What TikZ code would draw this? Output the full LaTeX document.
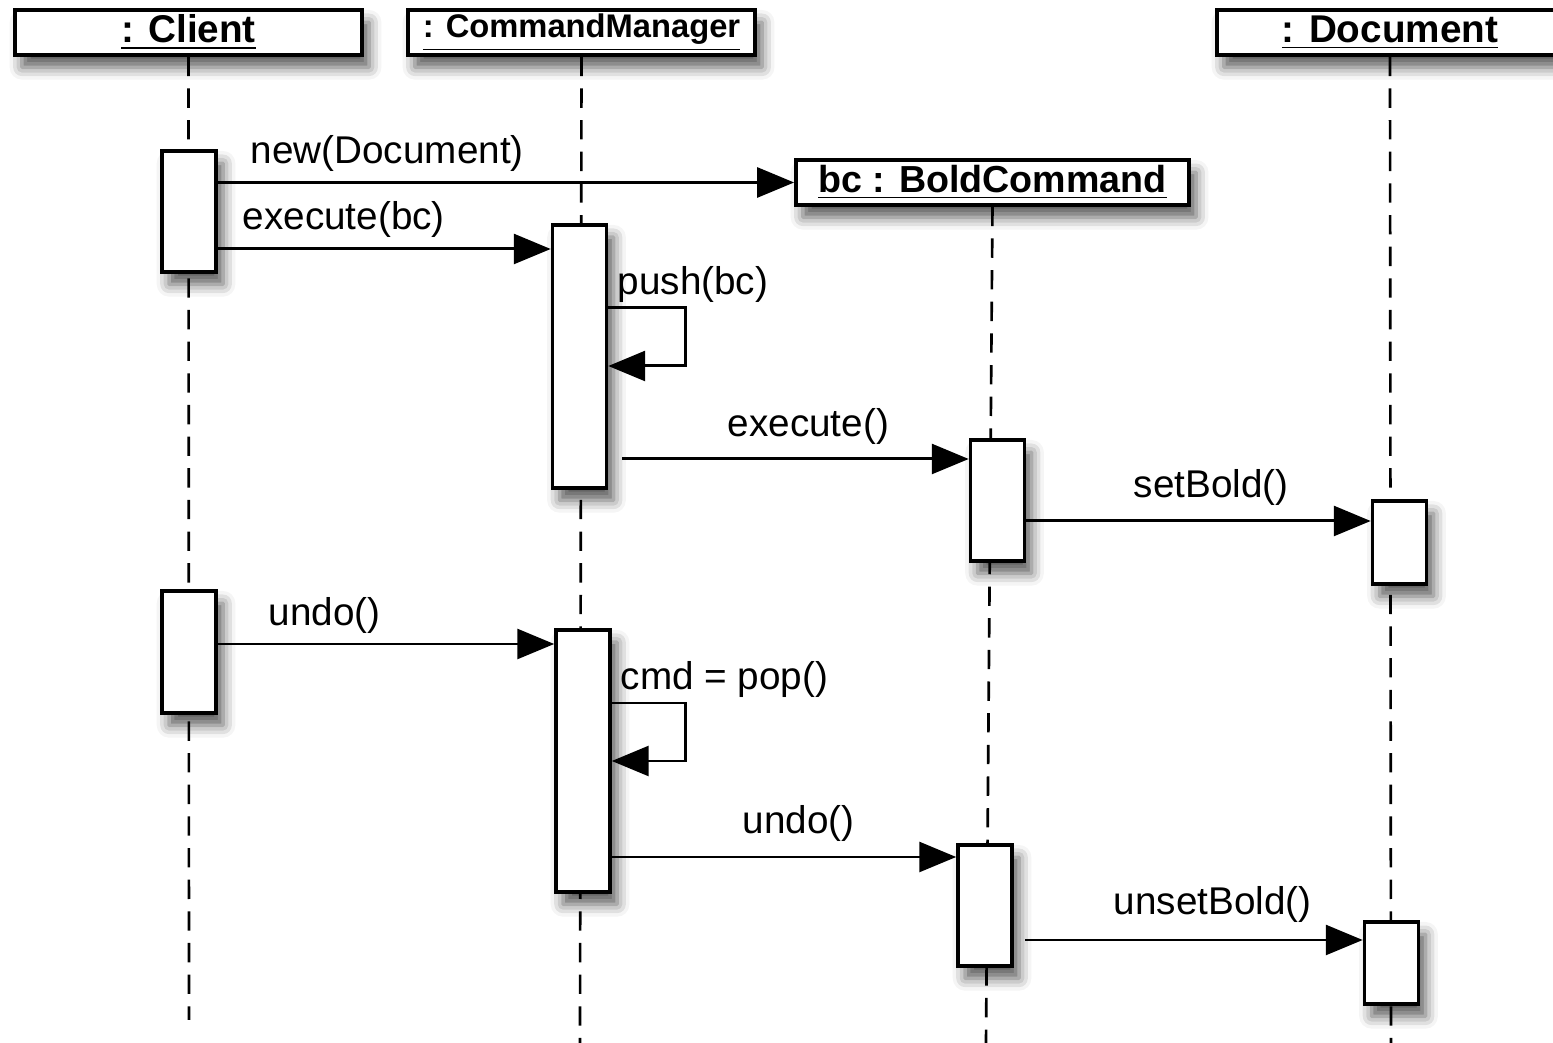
\documentclass[tikz,border=0pt]{standalone}
\usepackage{fontspec}
\setmainfont{Liberation Sans}
\usetikzlibrary{arrows.meta, shadows.blur}

\tikzset{
  shade/.style={blur shadow={shadow xshift=2pt, shadow yshift=-3.5pt, shadow blur radius=3.5pt, shadow opacity=65}},
  obj/.style={draw, line width=1pt, fill=white, inner sep=0pt, minimum height=0.45cm, shade},
  act/.style={draw, line width=1pt, fill=white, inner sep=0pt, minimum width=0.54cm, shade},
  life/.style={line width=0.75pt, dash pattern=on 5.5pt off 3.5pt},
  msg/.style={line width=0.85pt, -{Triangle[length=10.5pt, width=8.5pt]}},
  lbl/.style={font=\fontsize{11}{13}\selectfont, inner sep=0pt}
}

\begin{document}
\begin{tikzpicture}[x=0.01cm, y=-0.01cm]
        % Frame
        \useasboundingbox (0,0) rectangle (1553,1043);

        % Objects
        \node[obj, minimum width=3.47cm, font=\bfseries\fontsize{11}{13}\selectfont] (client) at (188.5,32.5) {\underline{: Client}};
        \node[obj, minimum width=3.47cm, font=\bfseries\fontsize{9.3}{11}\selectfont] (manager) at (581.5,32.5) {\underline{: CommandManager}};
        \node[obj, minimum width=3.46cm, font=\bfseries\fontsize{11}{13}\selectfont] (document) at (1390,32.5) {\underline{: Document}};

        % Bottom ends of the lifelines
        \coordinate (clientend) at (189,1020);
        \coordinate (managerend) at (580,1043);
        \coordinate (boldend) at (986,1043);
        \coordinate (documentend) at (1391,1043);

        % Lifelines
        \draw[life] (client.south) -- (clientend);
        \draw[life] (manager.south) -- (managerend);
        \draw[life] (document.south) -- (documentend);

        % Created object
        \node[obj, minimum width=3.93cm, font=\bfseries\fontsize{10.7}{13}\selectfont] (bold) at (992.5,182.5) {\underline{bc : BoldCommand}};
        \draw[life] (bold.south) -- (boldend);

        % Activations
        \node[act, minimum height=1.21cm] (cl1) at (189,211.5) {};
        \node[act, minimum height=1.22cm] (cl2) at (189,652) {};
        \node[act, minimum height=2.63cm] (cm1) at (579.5,356.5) {};
        \node[act, minimum height=2.62cm] (cm2) at (583,761) {};
        \node[act, minimum height=1.21cm] (bc1) at (997.5,500.5) {};
        \node[act, minimum height=1.21cm] (bc2) at (985,905.5) {};
        \node[act, minimum height=0.83cm] (doc1) at (1399.5,542.5) {};
        \node[act, minimum height=0.82cm] (doc2) at (1391.5,963) {};

        % Message rows
        \coordinate (r2) at (0,249);
        \coordinate (p1) at (0,308);
        \coordinate (p2) at (0,366);
        \coordinate (s4) at (622,459);
        \coordinate (r5) at (0,521);
        \coordinate (r6) at (0,644);
        \coordinate (q1) at (0,703);
        \coordinate (q2) at (0,761);
        \coordinate (r8) at (0,857);
        \coordinate (s9) at (1025,940);

        % Messages
        \draw[msg] (cl1.east |- bold.west) -- (bold.west);
        \node[lbl, anchor=west] (l1) at (250,153) {new(Document)};

        \draw[msg] (cl1.east |- r2) -- (cm1.west |- r2);
        \node[lbl, anchor=west] (l2) at (242,219) {execute(bc)};

        \draw[msg] (cm1.east |- p1) -- ++(77,0) -- ++(0,58) -- (cm1.east |- p2);
        \node[lbl, anchor=west] (l3) at (617,285) {push(bc)};

        \draw[msg] (s4) -- (bc1.west |- s4);
        \node[lbl, anchor=west] (l4) at (727,426) {execute()};

        \draw[msg] (bc1.east |- r5) -- (doc1.west |- r5);
        \node[lbl, anchor=west] (l5) at (1133,487) {setBold()};

        \draw[msg] (cl2.east |- r6) -- (cm2.west |- r6);
        \node[lbl, anchor=west] (l6) at (268,615) {undo()};

        \draw[msg] (cm2.east |- q1) -- ++(74,0) -- ++(0,58) -- (cm2.east |- q2);
        \node[lbl, anchor=west] (l7) at (620,680) {cmd = pop()};

        \draw[msg] (cm2.east |- r8) -- (bc2.west |- r8);
        \node[lbl, anchor=west] (l8) at (742,823) {undo()};

        \draw[msg] (s9) -- (doc2.west |- s9);
        \node[lbl, anchor=west] (l9) at (1113,904) {unsetBold()};

\end{tikzpicture}
\end{document}
